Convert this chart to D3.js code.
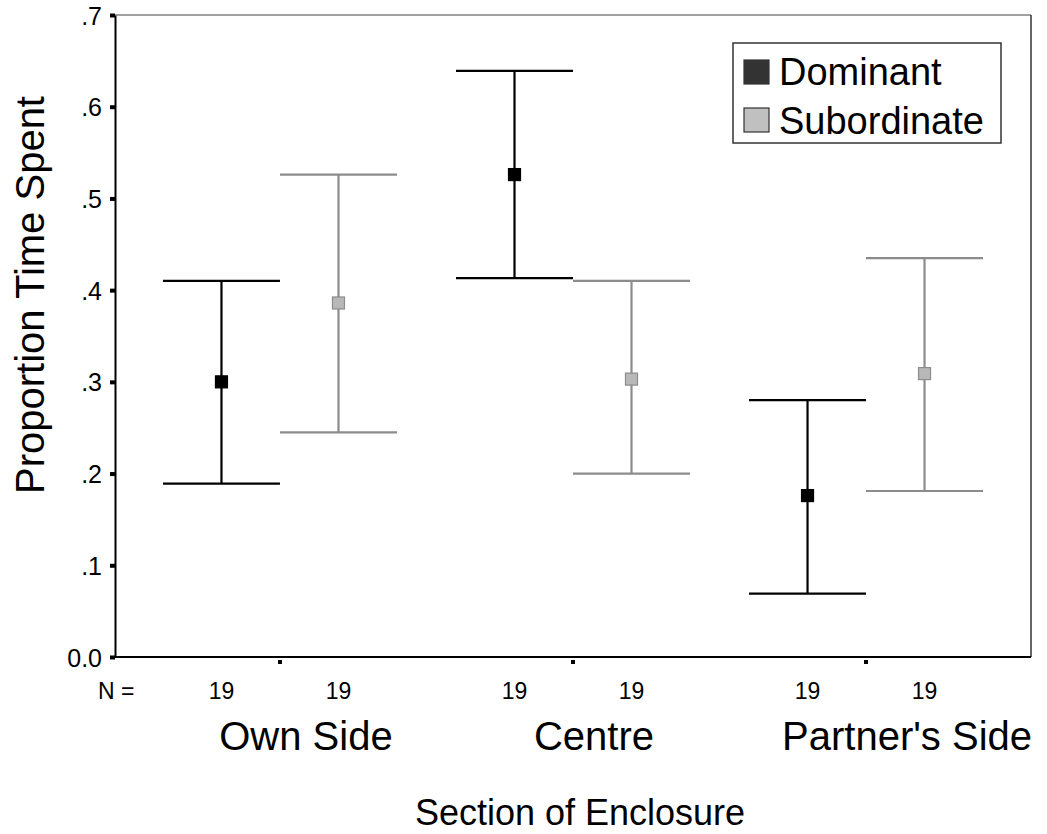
<!DOCTYPE html>
<html>
<head>
<meta charset="utf-8">
<title>Proportion Time Spent</title>
<script src="https://d3js.org/d3.v7.min.js"></script>
<style>
  body { margin: 0; background: #fff; }
  text { font-family: "Liberation Sans", Arial, sans-serif; fill: #000; }
</style>
</head>
<body>
<svg id="chart" width="1047" height="834"></svg>
<script>
// data
var sections = ["Own Side", "Centre", "Partner's Side"];
var groups = ["Dominant", "Subordinate"];
var nCounts = [19, 19, 19, 19, 19, 19];
var domMean  = [0.300, 0.526, 0.176];
var domLow   = [0.189, 0.413, 0.069];
var domHigh  = [0.410, 0.639, 0.280];
var subMean  = [0.386, 0.303, 0.309];
var subLow   = [0.245, 0.200, 0.181];
var subHigh  = [0.526, 0.410, 0.435];
var yTicks = [0, 0.1, 0.2, 0.3, 0.4, 0.5, 0.6, 0.7];

var margin = { top: 15, right: 16, bottom: 177, left: 115 };
var W = 1047, H = 834;
var width = W - margin.left - margin.right,
    height = H - margin.top - margin.bottom;

var svg = d3.select("#chart");
var g = svg.append("g").attr("transform", "translate(" + margin.left + "," + margin.top + ")");

var x = d3.scalePoint().domain(sections).range([0, width]).padding(0.563);
var off = 58.5;
var y = d3.scaleLinear().domain([0, 0.7]).range([height, 0]);

var rows = [];
sections.forEach(function(s, i) {
  rows.push({ sec: s, grp: "Dominant", mean: domMean[i], lo: domLow[i], hi: domHigh[i], n: nCounts[i * 2] });
  rows.push({ sec: s, grp: "Subordinate", mean: subMean[i], lo: subLow[i], hi: subHigh[i], n: nCounts[i * 2 + 1] });
});
function px(d) { return x(d.sec) + (d.grp === "Dominant" ? -off : off); }
var lineCol = { Dominant: "#000", Subordinate: "#8c8c8c" };

// frame: thin top/right
g.append("line").attr("x1", 0).attr("x2", width).attr("y1", 0).attr("y2", 0)
  .attr("stroke", "#444").attr("stroke-width", 1.2);
g.append("line").attr("x1", width).attr("x2", width).attr("y1", 0).attr("y2", height)
  .attr("stroke", "#333").attr("stroke-width", 1.5);

// y axis
var yAxis = g.append("g").call(d3.axisLeft(y).tickValues(yTicks).tickSize(0).tickPadding(13)
  .tickFormat(function(d) { return d === 0 ? "0.0" : d3.format(".1f")(d).replace(/^0/, ""); }));
yAxis.select(".domain").attr("stroke", "#000").attr("stroke-width", 2);
yAxis.selectAll("text").style("font-size", "25px").attr("font-family", null).attr("dy", "0.36em");
yAxis.selectAll(".tick").append("rect").attr("x", -5).attr("y", -2).attr("width", 5).attr("height", 4).attr("fill", "#000");

// x axis line
g.append("line").attr("x1", 0).attr("x2", width).attr("y1", height).attr("y2", height)
  .attr("stroke", "#000").attr("stroke-width", 2);
g.selectAll(".xtick").data(sections).enter().append("rect")
  .attr("x", function(d) { return x(d) - 2; }).attr("y", height + 3)
  .attr("width", 4).attr("height", 4).attr("fill", "#000");

// error bars
var eb = g.selectAll(".eb").data(rows).enter().append("g");
eb.append("line")
  .attr("x1", px).attr("x2", px)
  .attr("y1", function(d) { return y(d.lo); }).attr("y2", function(d) { return y(d.hi); })
  .attr("stroke", function(d) { return lineCol[d.grp]; }).attr("stroke-width", 2.2);
["lo", "hi"].forEach(function(k) {
  eb.append("line")
    .attr("x1", function(d) { return px(d) - off; }).attr("x2", function(d) { return px(d) + off; })
    .attr("y1", function(d) { return y(d[k]); }).attr("y2", function(d) { return y(d[k]); })
    .attr("stroke", function(d) { return lineCol[d.grp]; }).attr("stroke-width", 2.2);
});
eb.append("rect")
  .attr("x", function(d) { return px(d) - 6; }).attr("y", function(d) { return y(d.mean) - 6; })
  .attr("width", 12).attr("height", 12)
  .attr("fill", function(d) { return d.grp === "Dominant" ? "#000" : "#b8b8b8"; })
  .attr("stroke", function(d) { return d.grp === "Dominant" ? "#000" : "#8c8c8c"; })
  .attr("stroke-width", 1.2);

// N labels
g.append("text").attr("x", -17).attr("y", height + 42).attr("text-anchor", "start")
  .style("font-size", "23px").text("N =");
g.selectAll(".nlab").data(rows).enter().append("text")
  .attr("x", px).attr("y", height + 42).attr("text-anchor", "middle")
  .style("font-size", "23px").text(function(d) { return d.n; });

// category labels (SPSS places them slightly right of the tick)
var labelShift = [26, 21, 41];
g.selectAll(".cat").data(sections).enter().append("text")
  .attr("x", function(d, i) { return x(d) + labelShift[i]; }).attr("y", height + 93)
  .attr("text-anchor", "middle").style("font-size", "40px").text(function(d) { return d; });

// axis titles
svg.append("text").attr("x", 580).attr("y", 825).attr("text-anchor", "middle")
  .style("font-size", "36px").text("Section of Enclosure");
svg.append("text").attr("transform", "translate(44,295) rotate(-90)").attr("text-anchor", "middle")
  .style("font-size", "40px").text("Proportion Time Spent");

// legend
var lg = g.append("g").attr("transform", "translate(" + (733 - margin.left) + "," + (43 - margin.top) + ")");
lg.append("rect").attr("width", 268).attr("height", 100).attr("fill", "#fff").attr("stroke", "#333").attr("stroke-width", 1.5);
var swFill = { Dominant: "#333", Subordinate: "#c0c0c0" };
groups.forEach(function(gr, i) {
  lg.append("rect").attr("x", 11).attr("y", 17 + i * 48).attr("width", 25).attr("height", 24)
    .attr("fill", swFill[gr]).attr("stroke", "#333").attr("stroke-width", 1.2);
  lg.append("text").attr("x", 46).attr("y", 42 + i * 49).style("font-size", "38px").text(gr);
});
</script>
</body>
</html>
